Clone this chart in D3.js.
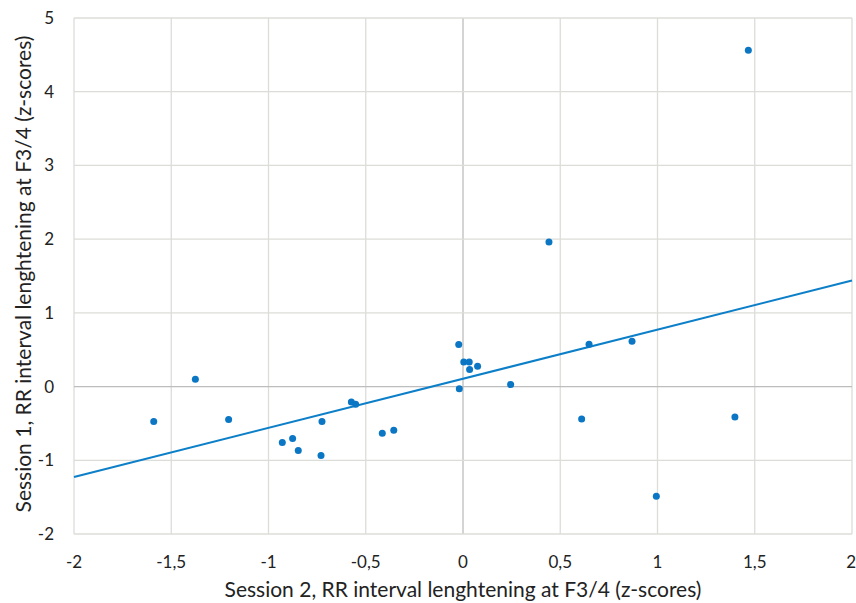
<!DOCTYPE html>
<html>
<head>
<meta charset="utf-8">
<script src="https://cdn.jsdelivr.net/npm/d3@7"></script>
<style>
  html, body { margin: 0; padding: 0; background: #fff; overflow: hidden; }
  svg { display: block; }
  text { font-family: Lato, "Open Sans", sans-serif; fill: #222; }
</style>
</head>
<body>
<svg id="chart" width="856" height="603"></svg>
<script>
// session 2 (x) vs session 1 (y) z-scores
const session2 = [-1.59, -1.376, -1.205, -0.929, -0.876, -0.847, -0.725, -0.73, -0.574, -0.552,
                  -0.415, -0.356, -0.022, 0.004, 0.032, 0.034, 0.075, -0.019, 0.245, 0.61,
                  1.398, 0.994, 0.442, 0.648, 0.869, 1.467];
const session1 = [-0.475, 0.1, -0.448, -0.76, -0.706, -0.868, -0.475, -0.936, -0.209, -0.24,
                  -0.634, -0.593, 0.57, 0.334, 0.334, 0.23, 0.275, -0.03, 0.027, -0.44,
                  -0.412, -1.488, 1.96, 0.575, 0.616, 4.563];

// linear trend line end points
const trendX = [-2, 2];
const trendY = [-1.227, 1.44];

const xTicks = [-2, -1.5, -1, -0.5, 0, 0.5, 1, 1.5, 2];
const yTicks = [-2, -1, 0, 1, 2, 3, 4, 5];

const xTitle = "Session 2, RR interval lenghtening at F3/4 (z-scores)";
const yTitle = "Session 1, RR interval lenghtening at F3/4 (z-scores)";

let margins = {top: 18, right: 4, bottom: 69, left: 74};
let width = 856, height = 603;
let innerWidth = width - margins.left - margins.right;
let innerHeight = height - margins.top - margins.bottom;

let svg = d3.select("#chart");
let g = svg.append("g").attr("transform", `translate(${margins.left},${margins.top})`);

let x = d3.scaleLinear().domain([-2, 2]).range([0, innerWidth]);
let y = d3.scaleLinear().domain([-2, 5]).range([innerHeight, 0]);

let fmt = d => String(d).replace(".", ",");

// grid
g.selectAll(".vgrid").data(xTicks).enter().append("line")
    .attr("x1", d => x(d)).attr("x2", d => x(d))
    .attr("y1", 0).attr("y2", innerHeight)
    .attr("stroke", d => d === 0 ? "#bdbdbd" : "#dcdcd8")
    .attr("stroke-width", 1.3);
g.selectAll(".hgrid").data(yTicks).enter().append("line")
    .attr("x1", 0).attr("x2", innerWidth)
    .attr("y1", d => y(d)).attr("y2", d => y(d))
    .attr("stroke", d => d === 0 ? "#bdbdbd" : "#dcdcd8")
    .attr("stroke-width", 1.3);

// tick labels
g.selectAll(".xlab").data(xTicks).enter().append("text")
    .attr("x", d => x(d)).attr("y", innerHeight + 34)
    .attr("text-anchor", d => d === 2 ? "end" : "middle")
    .attr("dx", d => d === 2 ? 4 : 0)
    .style("font-size", "17px")
    .text(fmt);
g.selectAll(".ylab").data(yTicks).enter().append("text")
    .attr("x", -20).attr("y", d => y(d)).attr("dy", "0.35em")
    .attr("text-anchor", "end").style("font-size", "17px")
    .text(fmt);

// trend line
let line = d3.line().x(d => x(d[0])).y(d => y(d[1]));
g.append("path")
    .datum(d3.zip(trendX, trendY))
    .attr("d", line)
    .attr("fill", "none")
    .attr("stroke", "#0c7fc8")
    .attr("stroke-width", 2);

// points
g.selectAll(".pt").data(d3.zip(session2, session1)).enter().append("circle")
    .attr("cx", d => x(d[0])).attr("cy", d => y(d[1]))
    .attr("r", 3.5)
    .attr("fill", "#0a76c4");

// axis titles
svg.append("text")
    .attr("x", 463).attr("y", 597)
    .attr("text-anchor", "middle").style("font-size", "21px")
    .text(xTitle);
svg.append("text")
    .attr("transform", `translate(31,${margins.top + innerHeight / 2 - 2}) rotate(-90)`)
    .attr("text-anchor", "middle").style("font-size", "21px")
    .text(yTitle);
</script>
</body>
</html>
